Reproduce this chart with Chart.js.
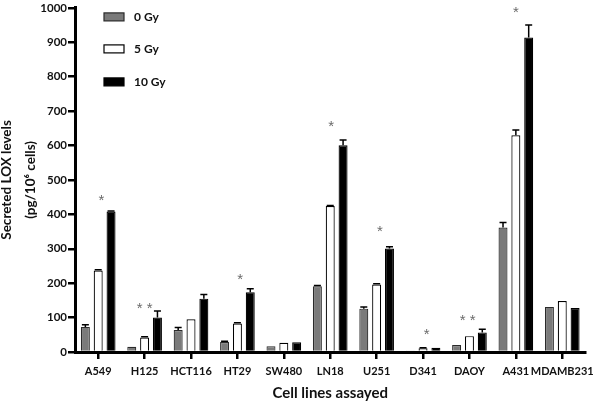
<!DOCTYPE html>
<html>
<head>
<meta charset="utf-8">
<script src="https://cdn.jsdelivr.net/npm/chart.js@4/dist/chart.umd.min.js"></script>
<style>
  html, body { margin: 0; padding: 0; background: #fff; }
  #wrap { width: 600px; height: 404px; }
</style>
</head>
<body>
<div id="wrap"><canvas id="c" width="600" height="404"></canvas></div>
<script>
const categories = ['A549', 'H125', 'HCT116', 'HT29', 'SW480', 'LN18', 'U251', 'D341', 'DAOY', 'A431', 'MDAMB231'];
const seriesNames = ['0 Gy', '5 Gy', '10 Gy'];
const gy0  = [73, 15, 64, 29, 17, 191, 126, 2, 20, 362, 131];
const gy5  = [237, 42, 95, 83, 27, 424, 196, 11, 46, 630, 148];
const gy10 = [408, 100, 155, 174, 28, 601, 301, 12, 57, 914, 128];
const err0  = [6, 0, 7, 2, 0, 2, 5, 0, 0, 14, 0];
const err5  = [2, 2, 0, 2, 0, 2, 2, 1, 0, 15, 0];
const err10 = [2, 19, 12, 10, 0, 15, 5, 0, 9, 36, 0];
const yTicks = [0, 100, 200, 300, 400, 500, 600, 700, 800, 900, 1000];
const starPos    = [0.07, 1, 3.06, 5.02, 6.07, 7.08, 7.96, 9];
const starValues = [448, 133, 217, 662, 358, 58, 98, 993];
const starTexts  = ['*', '* *', '*', '*', '*', '*', '* *', '*'];

const FONT = 'Lato, "Liberation Sans", Arial, sans-serif';
const fills = ['#7a7a7a', '#ffffff', '#000000'];
const borders = ['#2a2a2a', '#000000', '#000000'];
const errs = [err0, err5, err10];

const extras = {
  id: 'extras',
  afterDatasetsDraw(chart) {
    const ctx = chart.ctx;
    const ys = chart.scales.y, xs = chart.scales.x;
    ctx.save();
    chart.data.datasets.forEach((ds, i) => {
      const meta = chart.getDatasetMeta(i);
      meta.data.forEach((el, j) => {
        const e = errs[i][j];
        if (!e) return;
        const top = ys.getPixelForValue(ds.data[j] + e);
        ctx.strokeStyle = '#000';
        ctx.lineWidth = 1.5;
        ctx.beginPath();
        ctx.moveTo(el.x, el.y);
        ctx.lineTo(el.x, top);
        ctx.moveTo(el.x - 3.5, top);
        ctx.lineTo(el.x + 3.5, top);
        ctx.stroke();
      });
    });
    ctx.fillStyle = '#6a6a6a';
    ctx.font = '15px "Liberation Sans", Arial, sans-serif';
    ctx.textAlign = 'center';
    ctx.textBaseline = 'alphabetic';
    starTexts.forEach((t, k) => {
      const x = xs.getPixelForValue(starPos[k]);
      const y = ys.getPixelForValue(starValues[k]);
      const m = ctx.measureText(t);
      const off = (m.actualBoundingBoxAscent - m.actualBoundingBoxDescent) / 2;
      ctx.fillText(t, x, y + off);
    });
    ctx.restore();
  },
  afterDraw(chart) {
    const ctx = chart.ctx;
    const a = chart.chartArea;
    const rowY = [9, 41, 74];
    ctx.save();
    ctx.font = 'bold 12px ' + FONT;
    ctx.textBaseline = 'middle';
    ctx.textAlign = 'left';
    seriesNames.forEach((n, i) => {
      const bx = a.left + 29, by = a.top + rowY[i];
      ctx.fillStyle = fills[i];
      ctx.fillRect(bx, by - 4, 20, 8);
      ctx.strokeStyle = borders[i];
      ctx.lineWidth = 1.2;
      ctx.strokeRect(bx, by - 4, 20, 8);
      ctx.fillStyle = '#111';
      ctx.fillText(n, a.left + 59, by + 0.5);
    });
    ctx.restore();
  }
};

new Chart(document.getElementById('c'), {
  type: 'bar',
  data: {
    labels: categories,
    datasets: [gy0, gy5, gy10].map((d, i) => ({
      label: seriesNames[i],
      data: d,
      backgroundColor: fills[i],
      borderColor: borders[i],
      borderWidth: 1.2,
      barPercentage: 0.7,
      categoryPercentage: 0.83
    }))
  },
  options: {
    responsive: false,
    animation: false,
    devicePixelRatio: 1,
    layout: { padding: { top: 6, right: 6, left: 0, bottom: 0 } },
    plugins: { legend: { display: false }, tooltip: { enabled: false } },
    scales: {
      x: {
        offset: true,
        grid: { display: true, offset: false, drawOnChartArea: false, drawTicks: true, tickLength: 7, lineWidth: 2.5, color: '#000', tickColor: '#000', tickWidth: 2.5 },
        border: { display: true, width: 3, color: '#000' },
        ticks: { color: '#111', font: { family: FONT, size: 11, weight: 'bold' }, padding: 6, maxRotation: 0, autoSkip: false },
        title: { display: true, text: 'Cell lines assayed', color: '#111', font: { family: FONT, size: 15, weight: 'bold' }, padding: { top: 0, bottom: 2 } },
        afterFit(s) { s.height = 52; }
      },
      y: {
        min: 0, max: 1000,
        afterBuildTicks(s) { s.ticks = yTicks.map(v => ({ value: v })); },
        grid: { display: true, drawOnChartArea: false, drawTicks: true, tickLength: 7, lineWidth: 2.5, color: '#000', tickColor: '#000', tickWidth: 2.5 },
        border: { display: true, width: 3, color: '#000' },
        ticks: { color: '#111', font: { family: FONT, size: 11.5, weight: 'bold' }, padding: 1, callback: v => String(v) },
        title: { display: true, text: ['Secreted LOX levels', '(pg/10\u2076 cells)'], color: '#111', font: { family: FONT, size: 13.5, weight: 'bold', lineHeight: '24px' }, padding: { top: -5, bottom: 0 } },
        afterFit(s) { s.width = 75; }
      }
    }
  },
  plugins: [extras]
});
</script>
</body>
</html>
